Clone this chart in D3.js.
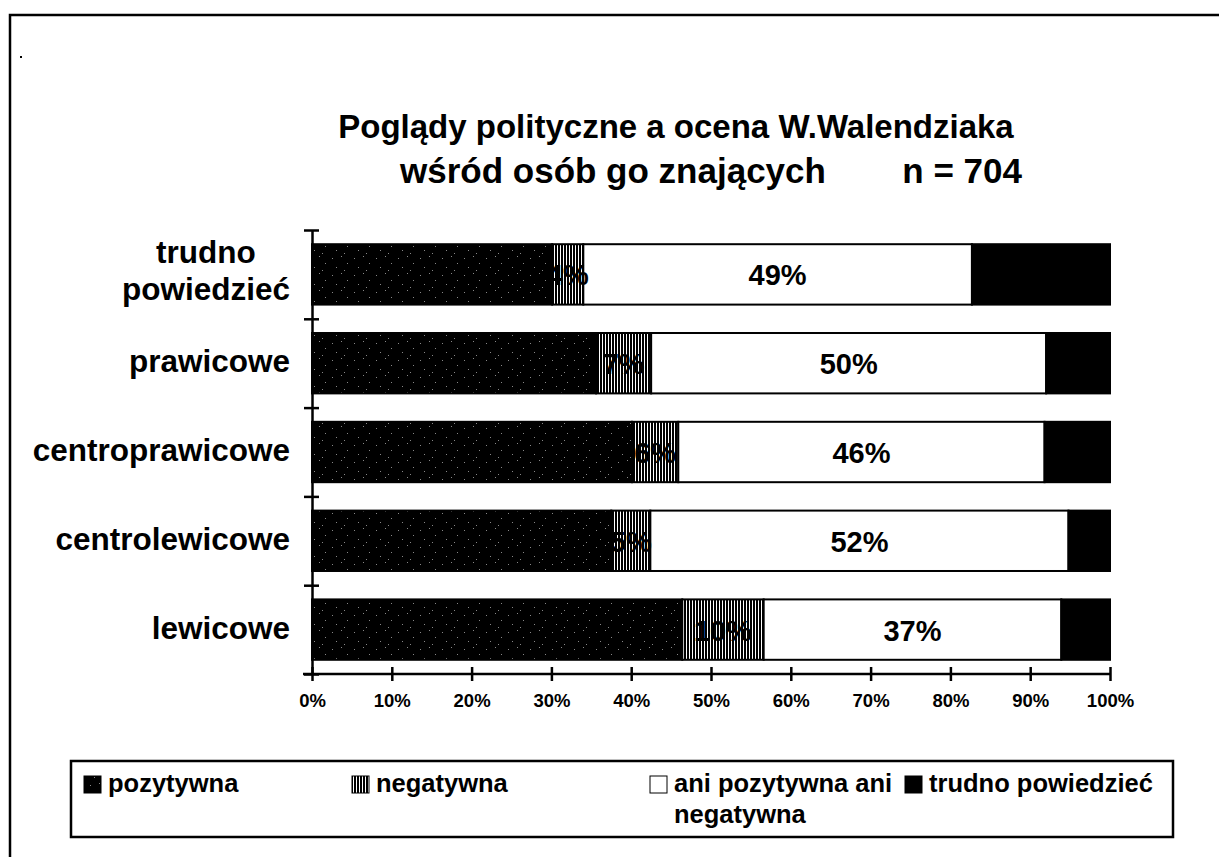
<!DOCTYPE html>
<html>
<head>
<meta charset="utf-8">
<script src="https://cdn.jsdelivr.net/npm/d3@7"></script>
<style>
  html, body { margin: 0; background: #fff; overflow: hidden; }
  svg { display: block; }
  text { font-family: "Liberation Sans", Arial, sans-serif; font-weight: bold; fill: #000; }
</style>
</head>
<body>
<div id="chart"></div>
<script>
// dane (od dołu do góry)
const categories = ["lewicowe", "centrolewicowe", "centroprawicowe", "prawicowe", "trudno\npowiedzieć"];
const pozytywna = [46.4, 37.5, 40.1, 35.6, 30.1];
const negatywna = [10.2, 4.9, 5.8, 6.9, 3.9];
const aniAni = [37.3, 52.4, 45.9, 49.5, 48.7];
const trudno = [6.1, 5.2, 8.2, 8.0, 17.3];
const seriesNames = ["pozytywna", "negatywna", "ani pozytywna ani\nnegatywna", "trudno powiedzieć"];
const xTicks = [0, 10, 20, 30, 40, 50, 60, 70, 80, 90, 100];
const titleLine1 = "Poglądy polityczne a ocena W.Walendziaka";
const titleLine2 = "wśród osób go znających";
const titleN = "n = 704";

var W = 1219, H = 857;

var svg = d3.select("#chart")
  .append("svg")
  .attr("width", W)
  .attr("height", H)

var defs = svg.append("defs")

// wzór "pozytywna" - czarny z rzadkimi białymi kropkami
var pPoz = defs.append("pattern")
  .attr("id", "pat-poz")
  .attr("patternUnits", "userSpaceOnUse")
  .attr("width", 22).attr("height", 17)
pPoz.append("rect").attr("width", 22).attr("height", 17).attr("fill", "#000")
var specks = [[2, 3], [11, 1], [17, 8], [6, 12], [14, 15]]
specks.forEach(s => {
  pPoz.append("rect").attr("x", s[0]).attr("y", s[1]).attr("width", 1).attr("height", 1).attr("fill", "#888")
})

// wzór "negatywna" - pionowe paski
var pNeg = defs.append("pattern")
  .attr("id", "pat-neg")
  .attr("patternUnits", "userSpaceOnUse")
  .attr("width", 3).attr("height", 10)
pNeg.append("rect").attr("width", 3).attr("height", 10).attr("fill", "#fff")
pNeg.append("rect").attr("width", 2).attr("height", 10).attr("fill", "#000")

var fills = ["url(#pat-poz)", "url(#pat-neg)", "#fff", "#000"]

// ramka całości - tylko lewy i górny brzeg są w kadrze
svg.append("path")
  .attr("d", "M10," + H + "V15H" + W)
  .attr("fill", "none")
  .attr("stroke", "#000")
  .attr("stroke-width", 2.5)

svg.append("rect").attr("x", 20).attr("y", 56).attr("width", 2).attr("height", 2).attr("fill", "#000")

// tytuł
svg.append("text")
  .attr("x", 676).attr("y", 138)
  .attr("text-anchor", "middle")
  .style("font-size", "33px")
  .text(titleLine1)

svg.append("text")
  .attr("x", 400).attr("y", 183)
  .style("font-size", "35px")
  .text(titleLine2)

svg.append("text")
  .attr("x", 1022).attr("y", 183)
  .attr("text-anchor", "end")
  .style("font-size", "35px")
  .text(titleN)

// skale
var x = d3.scaleLinear().domain([0, 100]).range([312, 1110])
var y = d3.scaleBand().domain(categories).range([674, 230]).padding(0)
var yEdge = d3.scaleLinear().domain([0, categories.length]).range([674, 230])

var rows = categories.map((c, i) => ({
  cat: c, poz: pozytywna[i], neg: negatywna[i], ani: aniAni[i], tru: trudno[i]
}))
var stack = d3.stack().keys(["poz", "neg", "ani", "tru"])(rows)

var barH = y.bandwidth() * 0.68

var g = svg.append("g")

g.selectAll("g.series")
  .data(stack)
  .enter()
  .append("g")
  .attr("class", "series")
  .attr("fill", (d, i) => fills[i])
  .selectAll("rect")
  .data(d => d)
  .enter()
  .append("rect")
  .attr("x", d => x(d[0]))
  .attr("width", d => x(d[1]) - x(d[0]))
  .attr("y", d => y(d.data.cat) + (y.bandwidth() - barH) / 2)
  .attr("height", barH)
  .attr("stroke", "#000")
  .attr("stroke-width", 2)

// etykiety wartości (czarne, na czarnym tle niewidoczne)
var labelSeries = [stack[1], stack[2]]
labelSeries.forEach(s => {
  g.append("g")
    .selectAll("text")
    .data(s)
    .enter()
    .append("text")
    .attr("x", d => (x(d[0]) + x(d[1])) / 2)
    .attr("y", d => y(d.data.cat) + y.bandwidth() / 2 + 11)
    .attr("text-anchor", "middle")
    .style("font-size", "29px")
    .text(d => Math.round(d[1] - d[0]) + "%")
})

// oś X
var xAxis = svg.append("g")
  .attr("transform", "translate(0,674)")
  .call(d3.axisBottom(x).tickValues(xTicks).tickFormat(d => d + "%").tickSizeOuter(0))
xAxis.select(".domain").attr("stroke-width", 2.5).attr("d", "M303,0H1110")
xAxis.selectAll(".tick line").attr("y1", -7).attr("y2", 7).attr("stroke-width", 2.5)
xAxis.selectAll(".tick text")
  .attr("y", 33).attr("dy", 0)
  .style("font-size", "18.5px")
  .style("font-family", "'Liberation Sans', Arial, sans-serif")
  .style("font-weight", "bold")

// oś Y - kreski na granicach kategorii
var yAxis = svg.append("g")
  .attr("transform", "translate(312,0)")
  .call(d3.axisLeft(yEdge).ticks(categories.length).tickFormat("").tickSizeOuter(0))
yAxis.select(".domain").attr("stroke-width", 2.5)
yAxis.selectAll(".tick line").attr("x1", -8).attr("x2", 7).attr("stroke-width", 2.5)

// etykiety kategorii
categories.forEach(c => {
  var lines = c.split("\n")
  var t = svg.append("text")
    .attr("text-anchor", "middle")
    .style("font-size", "31.5px")
  lines.forEach((l, k) => {
    t.append("tspan").attr("x", 0).attr("y", k * 37).text(l)
  })
  var bb = t.node().getBBox()
  var cy = y(c) + y.bandwidth() / 2 + 9 - (lines.length - 1) * 37 / 2 - 2 * (lines.length - 1)
  t.attr("transform", "translate(" + (290 - bb.width / 2) + "," + cy + ")")
})

// legenda
svg.append("rect")
  .attr("x", 71).attr("y", 761)
  .attr("width", 1102).attr("height", 76)
  .attr("fill", "#fff")
  .attr("stroke", "#000")
  .attr("stroke-width", 2.5)

var legX = [84, 352, 650, 905]
seriesNames.forEach((name, i) => {
  svg.append("rect")
    .attr("x", legX[i]).attr("y", 776)
    .attr("width", 17).attr("height", 17)
    .attr("fill", fills[i])
    .attr("stroke", "#000")
    .attr("stroke-width", 1)
  var t = svg.append("text").style("font-size", "25.5px")
  name.split("\n").forEach((l, k) => {
    t.append("tspan").attr("x", legX[i] + 24).attr("y", 792 + k * 31).text(l)
  })
})
</script>
</body>
</html>
